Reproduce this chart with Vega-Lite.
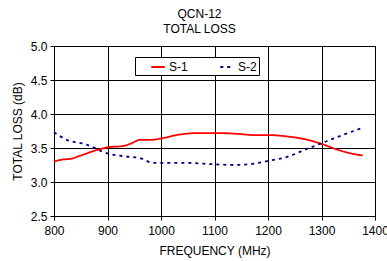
{
  "$schema": "https://vega.github.io/schema/vega-lite/v6.json",
  "autosize": {"type": "none"},
  "width": 321,
  "height": 170,
  "padding": {"left": 54, "top": 46, "right": 12, "bottom": 45},
  "background": "white",
  "config": {
    "font": "Liberation Sans",
    "view": {"stroke": "black", "strokeWidth": 1}
  },
  "title": {
    "text": ["QCN-12", "TOTAL LOSS"],
    "fontSize": 12,
    "fontWeight": "normal",
    "color": "black",
    "font": "Liberation Sans",
    "offset": 4,
    "dx": -15,
    "lineHeight": 15
  },
  "data": {
    "values": [
      {"f": 800, "loss": 3.30, "s": "S-1"},
      {"f": 815, "loss": 3.33, "s": "S-1"},
      {"f": 830, "loss": 3.34, "s": "S-1"},
      {"f": 850, "loss": 3.39, "s": "S-1"},
      {"f": 880, "loss": 3.47, "s": "S-1"},
      {"f": 900, "loss": 3.51, "s": "S-1"},
      {"f": 930, "loss": 3.53, "s": "S-1"},
      {"f": 945, "loss": 3.57, "s": "S-1"},
      {"f": 961, "loss": 3.62, "s": "S-1"},
      {"f": 983, "loss": 3.62, "s": "S-1"},
      {"f": 1000, "loss": 3.64, "s": "S-1"},
      {"f": 1036, "loss": 3.70, "s": "S-1"},
      {"f": 1074, "loss": 3.72, "s": "S-1"},
      {"f": 1100, "loss": 3.72, "s": "S-1"},
      {"f": 1140, "loss": 3.71, "s": "S-1"},
      {"f": 1174, "loss": 3.69, "s": "S-1"},
      {"f": 1200, "loss": 3.69, "s": "S-1"},
      {"f": 1236, "loss": 3.67, "s": "S-1"},
      {"f": 1274, "loss": 3.62, "s": "S-1"},
      {"f": 1300, "loss": 3.56, "s": "S-1"},
      {"f": 1336, "loss": 3.46, "s": "S-1"},
      {"f": 1355, "loss": 3.42, "s": "S-1"},
      {"f": 1377, "loss": 3.39, "s": "S-1"},
      {"f": 800, "loss": 3.73, "s": "S-2"},
      {"f": 824, "loss": 3.62, "s": "S-2"},
      {"f": 861, "loss": 3.55, "s": "S-2"},
      {"f": 900, "loss": 3.42, "s": "S-2"},
      {"f": 930, "loss": 3.38, "s": "S-2"},
      {"f": 961, "loss": 3.35, "s": "S-2"},
      {"f": 986, "loss": 3.28, "s": "S-2"},
      {"f": 1000, "loss": 3.28, "s": "S-2"},
      {"f": 1049, "loss": 3.28, "s": "S-2"},
      {"f": 1100, "loss": 3.26, "s": "S-2"},
      {"f": 1136, "loss": 3.25, "s": "S-2"},
      {"f": 1174, "loss": 3.27, "s": "S-2"},
      {"f": 1200, "loss": 3.31, "s": "S-2"},
      {"f": 1236, "loss": 3.37, "s": "S-2"},
      {"f": 1274, "loss": 3.49, "s": "S-2"},
      {"f": 1300, "loss": 3.57, "s": "S-2"},
      {"f": 1336, "loss": 3.68, "s": "S-2"},
      {"f": 1374, "loss": 3.79, "s": "S-2"}
    ]
  },
  "mark": {"type": "line", "strokeWidth": 1.8, "interpolate": "monotone"},
  "encoding": {
    "x": {
      "field": "f", "type": "quantitative",
      "scale": {"domain": [800, 1400], "nice": false},
      "axis": {
        "values": [800, 900, 1000, 1100, 1200, 1300, 1400],
        "format": "d",
        "title": "FREQUENCY (MHz)",
        "titleFont": "Liberation Sans", "titleFontSize": 12, "titleFontWeight": "normal", "titleColor": "black",
        "labelFont": "Liberation Sans", "labelFontSize": 12, "labelColor": "black",
        "domainColor": "black", "tickColor": "black", "tickSize": 4,
        "gridColor": "black", "gridOpacity": 1, "gridWidth": 1,
        "labelPadding": 5, "titlePadding": 9, "labelFlush": false, "labelOverlap": false
      }
    },
    "y": {
      "field": "loss", "type": "quantitative",
      "scale": {"domain": [2.5, 5.0], "nice": false, "zero": false},
      "axis": {
        "values": [2.5, 3.0, 3.5, 4.0, 4.5, 5.0],
        "format": ".1f",
        "title": "TOTAL LOSS (dB)",
        "titleFont": "Liberation Sans", "titleFontSize": 12, "titleFontWeight": "normal", "titleColor": "black",
        "labelFont": "Liberation Sans", "labelFontSize": 12, "labelColor": "black",
        "domainColor": "black", "tickColor": "black", "tickSize": 4,
        "gridColor": "black", "gridOpacity": 1, "gridWidth": 1,
        "labelPadding": 3, "titlePadding": 6
      }
    },
    "color": {
      "field": "s", "type": "nominal",
      "scale": {"domain": ["S-1", "S-2"], "range": ["#ff0000", "#000080"]},
      "legend": {
        "title": null,
        "orient": "none",
        "legendX": 81,
        "legendY": 11,
        "direction": "horizontal",
        "strokeColor": "black",
        "fillColor": "white",
        "padding": 2,
        "symbolType": "stroke",
        "symbolSize": 180,
        "symbolStrokeWidth": 2,
        "symbolOffset": 13,
        "labelFont": "Liberation Sans",
        "labelFontSize": 12,
        "labelColor": "black",
        "labelExpr": "datum.label == 'S-2' ? datum.label + '    ' : datum.label",
        "columnPadding": 18,
        "labelOffset": 3
      }
    },
    "strokeDash": {
      "field": "s", "type": "nominal",
      "scale": {"domain": ["S-1", "S-2"], "range": [[1, 0], [3, 4]]},
      "legend": null
    }
  }
}
